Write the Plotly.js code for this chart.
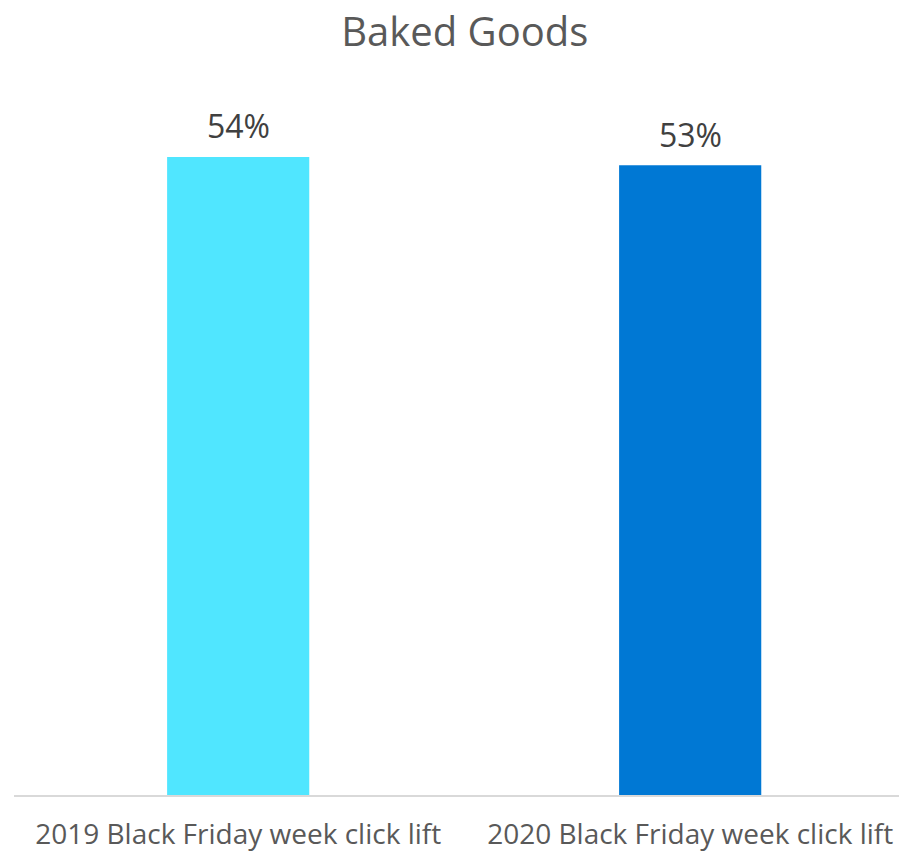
<!DOCTYPE html>
<html>
<head>
<meta charset="utf-8">
<script src="https://cdn.plot.ly/plotly-3.0.1.min.js"></script>
<style>html,body{margin:0;padding:0;background:#fff;}#chart{width:899px;height:853px;}</style>
</head>
<body>
<div id="chart"></div>
<script>
const categories = ["2019 Black Friday week click lift", "2020 Black Friday week click lift"];
const values = [0.54, 0.533];
const labels = ["54%", "53%"];
const colors = ["#50E6FF", "#0078D4"];

const trace = {
  type: "bar",
  x: categories,
  y: values,
  width: 0.3145,
  marker: {color: colors},
  hoverinfo: "none"
};

const annotations = categories.map((c, i) => ({
  x: c, y: values[i], xref: "x", yref: "y",
  text: labels[i], showarrow: false,
  yanchor: "middle", yshift: 31,
  font: {family: "Open Sans, sans-serif", size: 32, color: "#404040"}
}));

const layout = {
  width: 899, height: 853,
  margin: {l: 14, r: 0, t: 60, b: 58},
  paper_bgcolor: "#fff", plot_bgcolor: "#fff",
  title: {text: "Baked Goods", x: 0.517, xanchor: "center", y: 0.963, yanchor: "middle",
    font: {family: "Open Sans, sans-serif", size: 40, color: "#595959"}},
  xaxis: {
    type: "category", range: [-0.496, 1.462],
    showline: true, linecolor: "#d9d9d9", linewidth: 2,
    ticks: "", showgrid: false, zeroline: false,
    tickfont: {family: "Open Sans, sans-serif", size: 28, color: "#595959"},
    ticklabelstandoff: 13
  },
  yaxis: {range: [0, 0.622], visible: false, showgrid: false, zeroline: false},
  annotations: annotations,
  showlegend: false
};

Plotly.newPlot("chart", [trace], layout, {displayModeBar: false, staticPlot: true});
</script>
</body>
</html>
